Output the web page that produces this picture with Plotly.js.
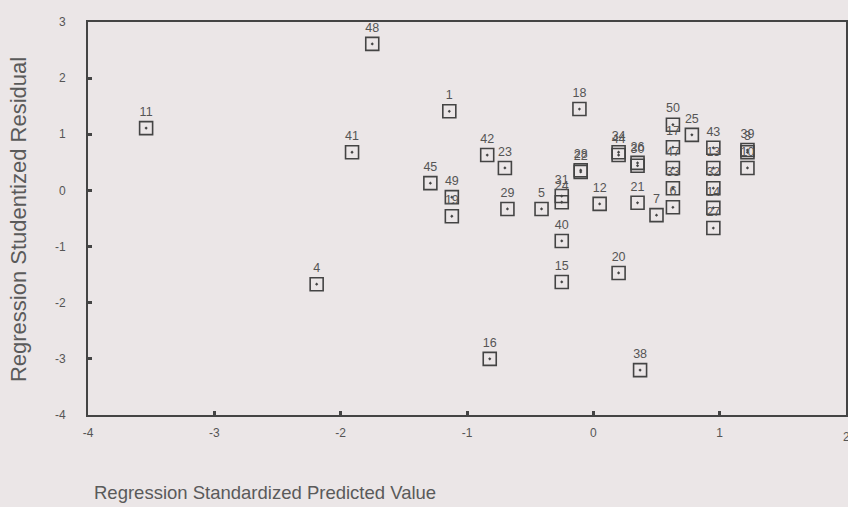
<!DOCTYPE html>
<html>
<head>
<meta charset="utf-8">
<script src="https://cdn.plot.ly/plotly-3.0.1.min.js"></script>
<style>
html,body{margin:0;padding:0;background:#ebe6e7;}
#chart{width:848px;height:507px;}
</style>
</head>
<body>
<div id="chart"></div>
<script>
var caseLabels = ["48","11","1","41","45","49","19","42","23","29","5","31","24","40","15","16","4","18","28","22","12","34","44","26","30","21","7","20","38","50","17","47","33","6","25","43","13","32","14","27","39","3","10"];
var predictedValues = [-1.75,-3.54,-1.14,-1.91,-1.29,-1.12,-1.12,-0.84,-0.70,-0.68,-0.41,-0.25,-0.25,-0.25,-0.25,-0.82,-2.19,-0.11,-0.10,-0.10,0.05,0.20,0.20,0.35,0.35,0.35,0.50,0.20,0.37,0.63,0.63,0.63,0.63,0.63,0.78,0.95,0.95,0.95,0.95,0.95,1.22,1.22,1.22];
var studentizedResiduals = [2.61,1.11,1.41,0.68,0.13,-0.12,-0.46,0.63,0.40,-0.33,-0.33,-0.10,-0.21,-0.90,-1.63,-3.00,-1.67,1.45,0.36,0.33,-0.24,0.68,0.63,0.49,0.44,-0.22,-0.44,-1.47,-3.20,1.17,0.77,0.40,0.04,-0.30,0.99,0.76,0.40,0.04,-0.31,-0.67,0.72,0.68,0.40];
var xTickVals = [-4,-3,-2,-1,0,1,2];
var xTickText = ["-4","-3","-2","-1","0","1","2"];
var yTickVals = [-4,-3,-2,-1,0,1,2,3];
var yTickText = ["-4","-3","-2","-1","0","1","2","3"];
var xTitle = 'Regression Standardized Predicted Value';
var yTitle = 'Regression Studentized Residual';

var trace = {
  x: predictedValues,
  y: studentizedResiduals,
  text: caseLabels,
  mode: 'markers+text',
  type: 'scatter',
  textposition: 'top center',
  textfont: {family: 'Liberation Sans, Arial, sans-serif', size: 12.5, color: '#555'},
  marker: {symbol: 'square-open-dot', size: 13, color: '#444', line: {width: 1.6, color: '#444'}},
  cliponaxis: false,
  hoverinfo: 'x+y+text'
};

var layout = {
  width: 848, height: 507,
  margin: {l: 88, r: 2, t: 22, b: 92},
  paper_bgcolor: '#ebe6e7',
  plot_bgcolor: '#ebe6e7',
  showlegend: false,
  font: {family: 'Liberation Sans, Arial, sans-serif', color: '#555'},
  xaxis: {
    range: [-4, 2], tickvals: xTickVals, ticktext: xTickText,
    showgrid: false, zeroline: false,
    showline: true, linecolor: '#444', linewidth: 2, mirror: true,
    ticks: 'inside', ticklen: 4, tickwidth: 3, tickcolor: '#444',
    tickfont: {size: 12, color: '#555'}, ticklabelstandoff: 6
  },
  yaxis: {
    range: [-4, 3], tickvals: yTickVals, ticktext: yTickText,
    showgrid: false, zeroline: false,
    showline: true, linecolor: '#444', linewidth: 2, mirror: true,
    ticks: 'inside', ticklen: 4, tickwidth: 3, tickcolor: '#444',
    tickfont: {size: 12, color: '#555'}, ticklabelstandoff: 18
  },
  annotations: [{
    text: xTitle,
    xref: 'paper', yref: 'paper',
    x: 0.005, y: -0.196, xanchor: 'left', yanchor: 'middle',
    showarrow: false, font: {size: 18.5, color: '#5a5a5a'}
  }, {
    text: yTitle,
    xref: 'paper', yref: 'paper', textangle: -90,
    x: -0.0923, y: 0.496, xanchor: 'center', yanchor: 'middle',
    showarrow: false, font: {size: 22, color: '#5a5a5a'}
  }, {
    text: xTickText[6],
    xref: 'x', yref: 'paper',
    x: xTickVals[6], y: -0.033, xanchor: 'center', yanchor: 'top',
    showarrow: false, font: {size: 12, color: '#555'}
  }]
};

Plotly.newPlot('chart', [trace], layout, {displayModeBar: false, staticPlot: true});
</script>
</body>
</html>
